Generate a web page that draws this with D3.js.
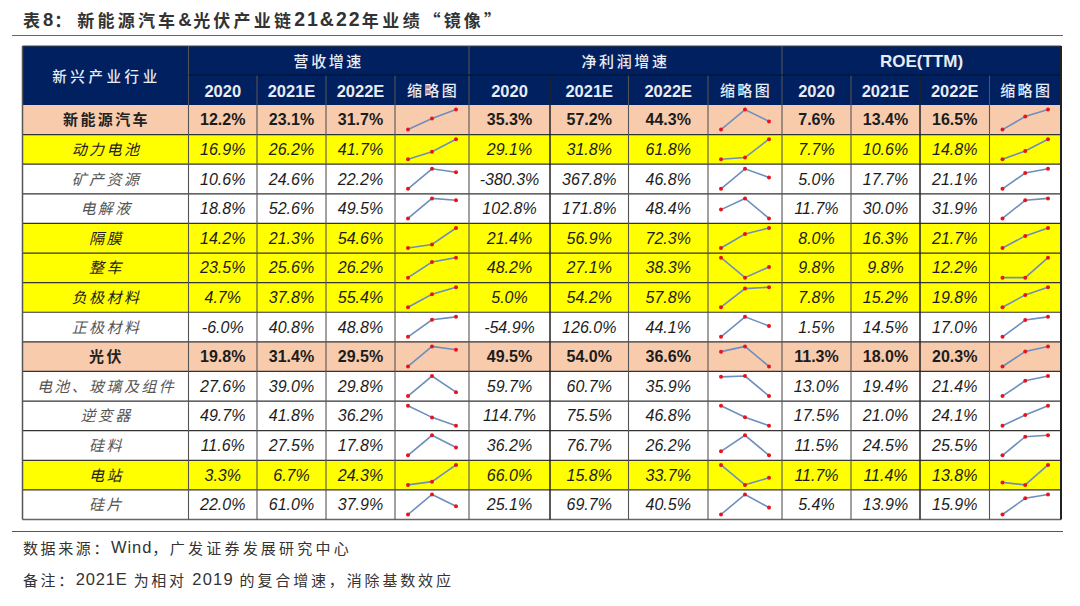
<!DOCTYPE html>
<html>
<head>
<meta charset="utf-8">
<script src="https://cdn.jsdelivr.net/npm/d3@7"></script>
<style>
  html, body { margin: 0; padding: 0; background: #fff; }
  svg { display: block; }
  text { font-family: "Liberation Sans", "Noto Sans CJK SC", sans-serif; }
</style>
</head>
<body>
<div id="chart"></div>
<script>
const categories = ['新能源汽车', '动力电池', '矿产资源', '电解液', '隔膜', '整车', '负极材料', '正极材料',
  '光伏', '电池、玻璃及组件', '逆变器', '硅料', '电站', '硅片'];
const sectorRows = ['新能源汽车', '光伏'];
const yellowRows = ['动力电池', '隔膜', '整车', '负极材料', '电站'];

const years = ['2020', '2021E', '2022E'];
const sparkTitle = '缩略图';
const groupTitles = ['营收增速', '净利润增速', 'ROE(TTM)'];
const rowHeader = '新兴产业行业';

const revenue = [[12.2, 23.1, 31.7], [16.9, 26.2, 41.7], [10.6, 24.6, 22.2], [18.8, 52.6, 49.5], [14.2, 21.3, 54.6],
  [23.5, 25.6, 26.2], [4.7, 37.8, 55.4], [-6.0, 40.8, 48.8], [19.8, 31.4, 29.5], [27.6, 39.0, 29.8],
  [49.7, 41.8, 36.2], [11.6, 27.5, 17.8], [3.3, 6.7, 24.3], [22.0, 61.0, 37.9]];
const profit = [[35.3, 57.2, 44.3], [29.1, 31.8, 61.8], [-380.3, 367.8, 46.8], [102.8, 171.8, 48.4], [21.4, 56.9, 72.3],
  [48.2, 27.1, 38.3], [5.0, 54.2, 57.8], [-54.9, 126.0, 44.1], [49.5, 54.0, 36.6], [59.7, 60.7, 35.9],
  [114.7, 75.5, 46.8], [36.2, 76.7, 26.2], [66.0, 15.8, 33.7], [25.1, 69.7, 40.5]];
const roe = [[7.6, 13.4, 16.5], [7.7, 10.6, 14.8], [5.0, 17.7, 21.1], [11.7, 30.0, 31.9], [8.0, 16.3, 21.7],
  [9.8, 9.8, 12.2], [7.8, 15.2, 19.8], [1.5, 14.5, 17.0], [11.3, 18.0, 20.3], [13.0, 19.4, 21.4],
  [17.5, 21.0, 24.1], [11.5, 24.5, 25.5], [11.7, 11.4, 13.8], [5.4, 13.9, 15.9]];
const groups = [revenue, profit, roe];

const W = 1080, H = 606;
const tableLeft = 22.5, tableRight = 1061;
const tableTop = 46, groupBottom = 75, headBottom = 105, tableBottom = 519.5;
const colEdges = [188.5, 257, 326, 395, 469, 550, 628.5, 708, 782, 851, 920, 989.5, 1061];

// full-width colon and comma
const COLON = '\uFF1A', COMMA = '\uFF0C';

const svg = d3.select('#chart').append('svg').attr('width', W).attr('height', H);

const rowY = d3.scaleBand().domain(categories).range([headBottom, tableBottom]);

function rowFill(name) {
  if (sectorRows.includes(name)) return '#f8cbad';
  if (yellowRows.includes(name)) return '#ffff00';
  return '#ffffff';
}

// Text split into runs because CJK and latin need different tracking
function addRuns(x, y, runs, size, opts = {}) {
  const t = svg.append('text').attr('x', x).attr('y', y)
    .attr('font-size', size)
    .attr('fill', opts.fill || '#333')
    .attr('font-weight', opts.weight || 400)
    .attr('text-anchor', opts.anchor || 'start')
    .attr('dominant-baseline', 'central');
  runs.forEach(r => {
    const span = t.append('tspan').attr('letter-spacing', r[1]).attr('font-size', r[2] || size).text(r[0]);
    // full-width punctuation has to come from the CJK font
    if (/[^\x00-\x7f]/.test(r[0])) span.style('font-family', '"Noto Sans CJK SC", sans-serif');
  });
  return t;
}

// Title
addRuns(23, 19, [['表', 3], ['8', 1, 18.5], [COLON, 6], ['新能源汽车', 3.2], ['&', 1.5, 18.5], ['光伏产业链', 3.2],
  ['21&22', 2, 19.5], ['年业绩', 3.6], ['“镜像”', 3.2]], 17, { weight: 700, fill: '#333' });
svg.append('line').attr('x1', 12).attr('x2', 1063).attr('y1', 35.5).attr('y2', 35.5)
  .attr('stroke', '#666').attr('stroke-width', 1);

// Header band
svg.append('rect').attr('x', tableLeft).attr('y', tableTop)
  .attr('width', tableRight - tableLeft).attr('height', headBottom - tableTop).attr('fill', '#002060');

// Row bands
svg.selectAll('.row-band').data(categories).enter().append('rect')
  .attr('class', 'row-band')
  .attr('x', tableLeft)
  .attr('y', d => rowY(d))
  .attr('width', tableRight - tableLeft)
  .attr('height', rowY.bandwidth())
  .attr('fill', rowFill);

// Row lines
svg.selectAll('.row-line').data(categories.slice(1)).enter().append('line')
  .attr('class', 'row-line')
  .attr('x1', tableLeft).attr('x2', tableRight)
  .attr('y1', d => rowY(d)).attr('y2', d => rowY(d))
  .attr('stroke', '#333').attr('stroke-width', 1.2);
svg.append('line').attr('x1', tableLeft).attr('x2', tableRight)
  .attr('y1', tableBottom).attr('y2', tableBottom).attr('stroke', '#666').attr('stroke-width', 1.5);
svg.append('line').attr('x1', tableLeft).attr('x2', tableRight)
  .attr('y1', tableTop).attr('y2', tableTop).attr('stroke', '#444').attr('stroke-width', 1.2);

// Column lines
svg.selectAll('.col-line').data(colEdges.slice(0, -1)).enter().append('line')
  .attr('class', 'col-line')
  .attr('x1', d => d).attr('x2', d => d)
  .attr('y1', (d, i) => (i % 4 === 0 ? tableTop : groupBottom))
  .attr('y2', tableBottom)
  .attr('stroke', (d, i) => (i === 5 || i === 10 ? '#222' : '#555'))
  .attr('stroke-width', (d, i) => (i === 5 || i === 10 ? 1.5 : 1.1));
svg.append('line').attr('x1', colEdges[0]).attr('x2', tableRight)
  .attr('y1', groupBottom).attr('y2', groupBottom).attr('stroke', '#001030').attr('stroke-width', 1);

// Side borders
svg.append('line').attr('x1', tableLeft).attr('x2', tableLeft).attr('y1', tableTop).attr('y2', tableBottom)
  .attr('stroke', '#555').attr('stroke-width', 1.5);
svg.append('line').attr('x1', tableRight).attr('x2', tableRight).attr('y1', tableTop).attr('y2', tableBottom)
  .attr('stroke', '#222').attr('stroke-width', 2);

// Header text
addRuns((tableLeft + colEdges[0]) / 2 + 1, 75, [[rowHeader, 3.6]], 14.5, { anchor: 'middle', fill: '#e8ecf4', weight: 500 });
groupTitles.forEach((name, g) => {
  const cx = (colEdges[g * 4] + colEdges[g * 4 + 4]) / 2;
  const latin = /^[A-Z]/.test(name);
  addRuns(cx, latin ? 60.5 : 60, [[name, latin ? 0 : 2.6]], latin ? 17 : 15, { anchor: 'middle', fill: '#e8ecf4', weight: latin ? 700 : 500 });
  years.forEach((year, k) => {
    addRuns((colEdges[g * 4 + k] + colEdges[g * 4 + k + 1]) / 2, 90.5, [[year, 0]], 16.5,
      { anchor: 'middle', fill: '#e8ecf4', weight: 700 });
  });
  addRuns((colEdges[g * 4 + 3] + colEdges[g * 4 + 4]) / 2 + 1, 89, [[sparkTitle, 2.4]], 15,
    { anchor: 'middle', fill: '#e8ecf4', weight: 500 });
});

// Category labels
categories.forEach(name => {
  const bold = sectorRows.includes(name);
  const t = addRuns((tableLeft + colEdges[0]) / 2 + 1, rowY(name) + rowY.bandwidth() / 2 - 1.5, [[name, 2.4]], 15,
    { anchor: 'middle', fill: bold || yellowRows.includes(name) ? '#222' : '#555', weight: bold ? 700 : 400 });
  if (!bold) t.attr('font-style', 'italic');
});

// Values and sparklines per group
groups.forEach((series, g) => {
  categories.forEach((name, r) => {
    const bold = sectorRows.includes(name);
    const cy = rowY(name) + rowY.bandwidth() / 2 - 0.5;
    years.forEach((year, k) => {
      const t = addRuns((colEdges[g * 4 + k] + colEdges[g * 4 + k + 1]) / 2, cy, [[series[r][k].toFixed(1) + '%', 0]], 16,
        { anchor: 'middle', fill: '#1c1c1c', weight: bold ? 700 : 400 });
      if (!bold) t.attr('font-style', 'italic');
    });

    const left = colEdges[g * 4 + 3], right = colEdges[g * 4 + 4];
    const sx = d3.scalePoint().domain(years).range([left + 13, right - 13]);
    const sy = d3.scaleLinear().domain(d3.extent(series[r])).range([rowY(name) + 24.6, rowY(name) + 4.6]);
    const line = d3.line().x((d, k) => sx(years[k])).y(d => sy(d));
    svg.append('path').datum(series[r]).attr('d', line)
      .attr('fill', 'none').attr('stroke', '#6d8fbd').attr('stroke-width', 1.6);
    svg.selectAll(null).data(series[r]).enter().append('circle')
      .attr('cx', (d, k) => sx(years[k])).attr('cy', d => sy(d)).attr('r', 2).attr('fill', '#e8141c');
  });
});

// Footer
svg.append('line').attr('x1', 12).attr('x2', 1063).attr('y1', 531.5).attr('y2', 531.5)
  .attr('stroke', '#555').attr('stroke-width', 1);
addRuns(23, 547, [['数据来源' + COLON, 2.6], ['Wind', 0.9, 16.5], [COMMA, 2.6], ['广发证券发展研究中心', 3.2]], 15, { fill: '#333' });
addRuns(23, 579, [['备注' + COLON, 2.6], ['2021E', 0.8, 16.5], [' ', 2], ['为相对', 2.6], [' 2019 ', 1.2, 16.5], ['的复合增速' + COMMA + '消除基数效应', 2.85]], 15, { fill: '#333' });
</script>
</body>
</html>
